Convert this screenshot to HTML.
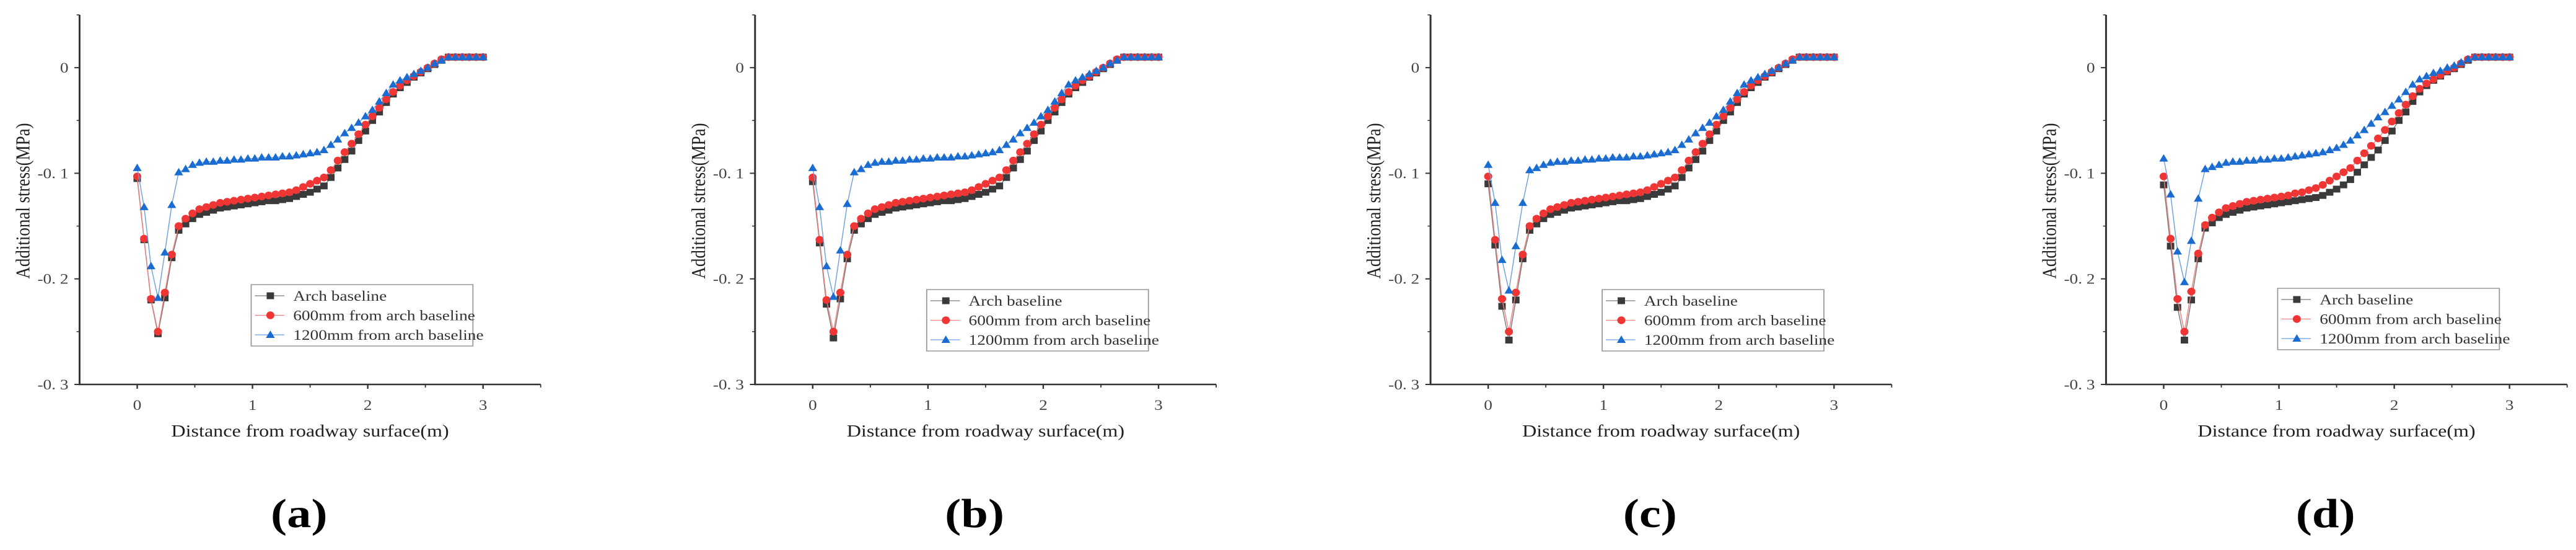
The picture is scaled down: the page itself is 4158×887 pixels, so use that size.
<!DOCTYPE html>
<html><head><meta charset="utf-8"><style>
html,body{margin:0;padding:0;background:#fff;}
svg{display:block;}
text{font-family:"Liberation Serif",serif;}
</style></head><body>
<svg id="fig" width="4158" height="887" viewBox="0 0 3497 887" preserveAspectRatio="none" xmlns="http://www.w3.org/2000/svg"></svg>
<script>
const xs = Array.from({length:51},(_,i)=>+(i*0.06).toFixed(2));
const xTicks = [0,1,2,3];
const yTicks = [-0.3,-0.2,-0.1,0];
const yTickLabels = ["-0. 3","-0. 2","-0. 1","0"];
const seriesNames = ["Arch baseline","600mm from arch baseline","1200mm from arch baseline"];
const panelLabels = ["(a)","(b)","(c)","(d)"];

const blackA = [-0.105,-0.163,-0.220,-0.252,-0.218,-0.180,-0.154,-0.148,-0.143,-0.139,-0.137,-0.135,-0.133,-0.132,-0.131,-0.130,-0.129,-0.128,-0.127,-0.126,-0.126,-0.125,-0.124,-0.122,-0.120,-0.118,-0.115,-0.112,-0.104,-0.095,-0.087,-0.079,-0.069,-0.060,-0.050,-0.042,-0.033,-0.025,-0.019,-0.014,-0.009,-0.005,-0.001,0.003,0.007,0.010,0.010,0.010,0.010,0.010,0.010];
const redA = [-0.103,-0.162,-0.219,-0.250,-0.213,-0.177,-0.150,-0.143,-0.138,-0.134,-0.132,-0.130,-0.128,-0.127,-0.126,-0.125,-0.124,-0.123,-0.122,-0.121,-0.120,-0.119,-0.118,-0.116,-0.113,-0.110,-0.107,-0.104,-0.097,-0.088,-0.080,-0.072,-0.063,-0.054,-0.046,-0.038,-0.030,-0.023,-0.017,-0.012,-0.008,-0.004,0.000,0.004,0.008,0.010,0.010,0.010,0.010,0.010,0.010];
const blueA = [-0.095,-0.132,-0.188,-0.218,-0.175,-0.130,-0.099,-0.096,-0.092,-0.090,-0.089,-0.089,-0.088,-0.088,-0.087,-0.087,-0.086,-0.086,-0.085,-0.085,-0.085,-0.084,-0.084,-0.083,-0.082,-0.081,-0.080,-0.078,-0.073,-0.068,-0.062,-0.057,-0.052,-0.046,-0.040,-0.032,-0.024,-0.016,-0.012,-0.009,-0.006,-0.003,0.000,0.004,0.007,0.010,0.010,0.010,0.010,0.010,0.010];

const blackB = [-0.108,-0.166,-0.224,-0.256,-0.219,-0.181,-0.154,-0.148,-0.143,-0.139,-0.137,-0.135,-0.133,-0.132,-0.131,-0.130,-0.129,-0.128,-0.127,-0.126,-0.126,-0.125,-0.124,-0.122,-0.120,-0.118,-0.115,-0.112,-0.104,-0.095,-0.087,-0.079,-0.069,-0.060,-0.050,-0.042,-0.033,-0.025,-0.019,-0.014,-0.009,-0.005,-0.001,0.003,0.007,0.010,0.010,0.010,0.010,0.010,0.010];
const redB = [-0.104,-0.163,-0.220,-0.250,-0.213,-0.177,-0.150,-0.143,-0.138,-0.134,-0.132,-0.130,-0.128,-0.127,-0.126,-0.125,-0.124,-0.123,-0.122,-0.121,-0.120,-0.119,-0.118,-0.116,-0.113,-0.110,-0.107,-0.104,-0.097,-0.088,-0.080,-0.072,-0.063,-0.054,-0.046,-0.038,-0.030,-0.023,-0.017,-0.012,-0.008,-0.004,0.000,0.004,0.008,0.010,0.010,0.010,0.010,0.010,0.010];
const blueB = [-0.095,-0.132,-0.188,-0.217,-0.173,-0.129,-0.099,-0.096,-0.092,-0.090,-0.089,-0.089,-0.088,-0.088,-0.087,-0.087,-0.086,-0.086,-0.085,-0.085,-0.085,-0.084,-0.084,-0.083,-0.082,-0.081,-0.080,-0.078,-0.073,-0.068,-0.062,-0.057,-0.052,-0.046,-0.040,-0.032,-0.024,-0.016,-0.012,-0.009,-0.006,-0.003,0.000,0.004,0.007,0.010,0.010,0.010,0.010,0.010,0.010];

const blackC = [-0.110,-0.168,-0.226,-0.258,-0.220,-0.181,-0.154,-0.148,-0.143,-0.139,-0.137,-0.135,-0.133,-0.132,-0.131,-0.130,-0.129,-0.128,-0.127,-0.126,-0.126,-0.125,-0.124,-0.122,-0.120,-0.118,-0.115,-0.112,-0.104,-0.095,-0.087,-0.079,-0.069,-0.060,-0.050,-0.042,-0.033,-0.025,-0.019,-0.014,-0.009,-0.005,-0.001,0.003,0.007,0.010,0.010,0.010,0.010,0.010,0.010];
const redC = [-0.103,-0.163,-0.219,-0.250,-0.213,-0.177,-0.150,-0.143,-0.138,-0.134,-0.132,-0.130,-0.128,-0.127,-0.126,-0.125,-0.124,-0.123,-0.122,-0.121,-0.120,-0.119,-0.118,-0.116,-0.113,-0.110,-0.107,-0.104,-0.097,-0.088,-0.080,-0.072,-0.063,-0.054,-0.046,-0.038,-0.030,-0.023,-0.017,-0.012,-0.008,-0.004,0.000,0.004,0.008,0.010,0.010,0.010,0.010,0.010,0.010];
const blueC = [-0.092,-0.128,-0.182,-0.211,-0.169,-0.128,-0.097,-0.095,-0.092,-0.090,-0.089,-0.089,-0.088,-0.088,-0.087,-0.087,-0.086,-0.086,-0.085,-0.085,-0.085,-0.084,-0.084,-0.083,-0.082,-0.081,-0.080,-0.078,-0.073,-0.068,-0.062,-0.057,-0.052,-0.046,-0.040,-0.032,-0.024,-0.016,-0.012,-0.009,-0.006,-0.003,0.000,0.004,0.007,0.010,0.010,0.010,0.010,0.010,0.010];

const blackD = [-0.111,-0.169,-0.227,-0.258,-0.220,-0.181,-0.152,-0.147,-0.142,-0.139,-0.137,-0.135,-0.133,-0.132,-0.131,-0.130,-0.129,-0.128,-0.127,-0.126,-0.125,-0.124,-0.123,-0.121,-0.118,-0.115,-0.111,-0.106,-0.099,-0.092,-0.085,-0.078,-0.069,-0.060,-0.050,-0.042,-0.032,-0.023,-0.017,-0.012,-0.008,-0.004,-0.001,0.003,0.007,0.010,0.010,0.010,0.010,0.010,0.010];
const redD = [-0.103,-0.162,-0.219,-0.250,-0.212,-0.176,-0.149,-0.142,-0.137,-0.133,-0.131,-0.129,-0.127,-0.126,-0.125,-0.124,-0.123,-0.122,-0.121,-0.119,-0.118,-0.116,-0.114,-0.111,-0.107,-0.103,-0.099,-0.095,-0.088,-0.081,-0.074,-0.067,-0.059,-0.051,-0.043,-0.035,-0.027,-0.020,-0.015,-0.011,-0.007,-0.003,0.000,0.004,0.008,0.010,0.010,0.010,0.010,0.010,0.010];
const blueD = [-0.086,-0.120,-0.174,-0.203,-0.164,-0.124,-0.096,-0.094,-0.092,-0.090,-0.089,-0.089,-0.088,-0.088,-0.087,-0.087,-0.086,-0.086,-0.085,-0.084,-0.083,-0.082,-0.081,-0.080,-0.078,-0.076,-0.073,-0.069,-0.064,-0.059,-0.053,-0.047,-0.042,-0.036,-0.030,-0.023,-0.016,-0.011,-0.008,-0.005,-0.003,0.000,0.002,0.005,0.008,0.010,0.010,0.010,0.010,0.010,0.010];

const panels = [
  {b:blackA,r:redA,u:blueA,legY:459},
  {b:blackB,r:redB,u:blueB,legY:467},
  {b:blackC,r:redC,u:blueC,legY:467},
  {b:blackD,r:redD,u:blueD,legY:465}
];

const NS="http://www.w3.org/2000/svg";
const svg=document.getElementById('fig');
function mk(tag,attrs,parent){const e=document.createElementNS(NS,tag);for(const k in attrs)e.setAttribute(k,attrs[k]);(parent||svg).appendChild(e);return e;}

const AX0=108, PANEL_DX=917, PLOT_W=626;
const Y_TOP=24, Y_BOT=620;
const xMin=-0.5,xMax=3.5,yMin=-0.3,yMax=0.05;
const colors={b:"#3a3a3a",r:"#f03535",u:"#1a6cd0"};
const lineColors={b:"#777",r:"#f08080",u:"#6aa0e0"};

function marker(key,cx,cy,g){
  let e;
  if(key==='b'){e=mk('rect',{x:cx-5,y:cy-5.5,width:10,height:11,fill:colors.b},g);}
  else if(key==='r'){e=mk('ellipse',{cx:cx,cy:cy,rx:5.5,ry:6.2,fill:colors.r},g);}
  else {e=mk('polygon',{points:`${cx},${cy-7} ${cx-6},${cy+5} ${cx+6},${cy+5}`,fill:colors.u},g);}
  return e;
}

panels.forEach((p,k)=>{
  const ax=AX0+k*PANEL_DX;
  const X=v=>ax+(v-xMin)/(xMax-xMin)*PLOT_W;
  const Y=v=>Y_BOT-(v-yMin)/(yMax-yMin)*(Y_BOT-Y_TOP);
  const g=mk('g',{});
  
  

  const yl=mk('line',{x1:ax,y1:Y_TOP,x2:ax,y2:Y_BOT+1,stroke:"#333","stroke-width":2.5},g);
  
  
  const xl=mk('line',{x1:ax-1,y1:Y_BOT,x2:ax+PLOT_W,y2:Y_BOT,stroke:"#333","stroke-width":2.5},g);
  
  

  yTicks.forEach((t,i)=>{
    mk('line',{x1:ax-7,y1:Y(t),x2:ax,y2:Y(t),stroke:"#333","stroke-width":2},g);
    const tl=mk('text',{x:ax-15,y:Y(t)+8,"text-anchor":"end","font-size":23,fill:"#444"},g);
    tl.textContent=yTickLabels[i];
    
    
  });
  [-0.25,-0.15,-0.05,0.05].forEach(t=>mk('line',{x1:ax-4,y1:Y(t),x2:ax,y2:Y(t),stroke:"#333","stroke-width":1.5},g));
  xTicks.forEach(t=>{
    mk('line',{x1:X(t),y1:Y_BOT,x2:X(t),y2:Y_BOT+7,stroke:"#333","stroke-width":2},g);
    const tl=mk('text',{x:X(t),y:661,"text-anchor":"middle","font-size":23,fill:"#444"},g);
    tl.textContent=String(t);
    
    
  });
  [0.5,1.5,2.5,3.5].forEach(t=>mk('line',{x1:X(t),y1:Y_BOT,x2:X(t),y2:Y_BOT+5,stroke:"#333","stroke-width":1.5},g));

  const xt=mk('text',{x:ax+PLOT_W/2,y:704,"text-anchor":"middle","font-size":27,fill:"#222"},g);
  xt.textContent="Distance from roadway surface(m)";
  
  
  const yt=mk('text',{x:0,y:0,"text-anchor":"middle","font-size":27,fill:"#222",transform:`translate(${ax-68},324) rotate(-90)`},g);
  yt.textContent="Additional stress(MPa)";
  
  

  ['b','r','u'].forEach(key=>{
    const vals=p[key];
    const sg=mk('g',{},g);
    
    
    const pts=xs.map((x,i)=>X(x).toFixed(1)+','+Y(vals[i]).toFixed(1)).join(' ');
    mk('polyline',{points:pts,fill:"none",stroke:lineColors[key],"stroke-width":1.2},sg);
    xs.forEach((x,i)=>{
      const m=marker(key,X(x),Y(vals[i]),sg);
      
      
    });
  });

  const lx=ax+233, ly=p.legY;
  const lg=mk('g',{},g);
  
  
  mk('rect',{x:lx,y:ly,width:301,height:99,fill:"#fff",stroke:"#999","stroke-width":1.5},lg);
  ['b','r','u'].forEach((key,i)=>{
    const cy=ly+18+i*31.5;
    mk('line',{x1:lx+5,y1:cy,x2:lx+45,y2:cy,stroke:lineColors[key],"stroke-width":1.2},lg);
    marker(key,lx+26,cy,lg);
    const t=mk('text',{x:lx+57,y:cy+8,"font-size":23,fill:"#333"},lg);
    t.textContent=seriesNames[i];
    
    
  });

  const pl=mk('text',{x:ax+298,y:850,"text-anchor":"middle","font-size":66,"font-weight":"bold",fill:"#000"},g);
  pl.textContent=panelLabels[k];
  
  
});
</script>
</body></html>
